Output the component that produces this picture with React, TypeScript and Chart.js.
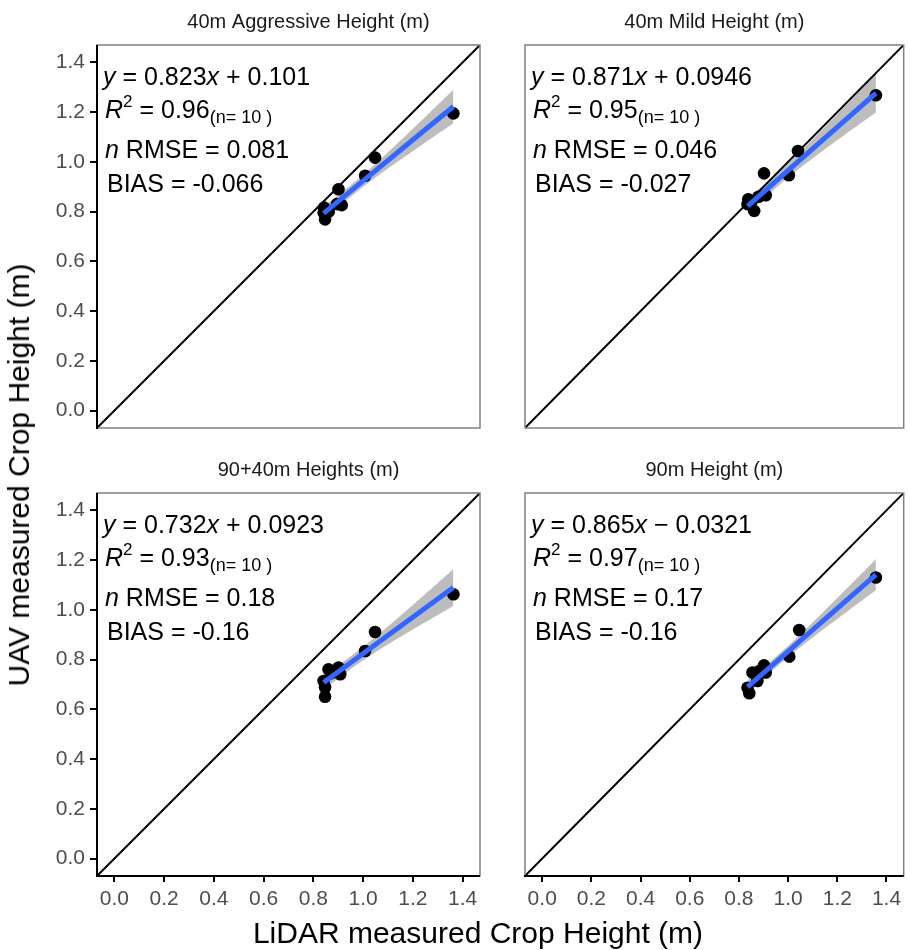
import React, { useEffect, useRef } from "react";
import { Chart, registerables } from "chart.js";

Chart.register(...registerables);

const FONT = '"Liberation Sans", Arial, Helvetica, sans-serif';

// ---------- data ----------
const panelTitles = ["40m Aggressive Height (m)", "40m Mild Height (m)", "90+40m Heights (m)", "90m Height (m)"];

const lidarAggressive = [0.843, 0.841, 0.847, 0.862, 0.895, 0.914, 0.901, 1.008, 1.048, 1.363];
const uavAggressive = [0.816, 0.796, 0.769, 0.800, 0.830, 0.826, 0.890, 0.944, 1.017, 1.195];

const lidarMild = [0.835, 0.838, 0.862, 0.880, 0.902, 0.909, 0.850, 1.003, 1.040, 1.357];
const uavMild = [0.830, 0.850, 0.803, 0.860, 0.954, 0.866, 0.840, 0.946, 1.044, 1.268];

const lidarCombined = [0.841, 0.847, 0.847, 0.861, 0.870, 0.901, 0.908, 1.008, 1.048, 1.363];
const uavCombined = [0.714, 0.689, 0.651, 0.761, 0.745, 0.768, 0.741, 0.835, 0.911, 1.063];

const lidar90 = [0.835, 0.842, 0.855, 0.875, 0.885, 0.902, 0.909, 1.005, 1.045, 1.357];
const uav90 = [0.687, 0.665, 0.748, 0.714, 0.755, 0.777, 0.748, 0.812, 0.919, 1.130];

const slopes = [0.823, 0.871, 0.732, 0.865];
const intercepts = [0.101, 0.0946, 0.0923, -0.0321];
const slopeLabels = ["0.823", "0.871", "0.732", "0.865"];
const interceptLabels = ["+ 0.101", "+ 0.0946", "+ 0.0923", "\u2212 0.0321"];
const r2Labels = ["0.96", "0.95", "0.93", "0.97"];
const nLabels = ["10", "10", "10", "10"];
const nrmseLabels = ["0.081", "0.046", "0.18", "0.17"];
const biasLabels = ["-0.066", "-0.027", "-0.16", "-0.16"];

const tickValues = [0, 0.2, 0.4, 0.6, 0.8, 1.0, 1.2, 1.4];
const axisMin = -0.07;
const axisMax = 1.47;

const xTitle = "LiDAR measured Crop Height (m)";
const yTitle = "UAV measured Crop Height (m)";

// ---------- layout ----------
const COL_X = [97, 525];
const ROW_Y = [45, 493];
const PANEL_W = 383;
const PANEL_H = 383;
const TITLE_SHIFT = [20, 0];

const xsList = [lidarAggressive, lidarMild, lidarCombined, lidar90];
const ysList = [uavAggressive, uavMild, uavCombined, uav90];

function ribbon(xs: number[], ys: number[], b: number, a: number) {
  const n = xs.length;
  const xbar = xs.reduce((s, v) => s + v, 0) / n;
  const sxx = xs.reduce((s, v) => s + (v - xbar) ** 2, 0);
  const sse = xs.reduce((s, v, i) => s + (ys[i] - (a + b * v)) ** 2, 0);
  const sd = Math.sqrt(sse / (n - 2));
  const t = 2.306;
  const lo = Math.min(...xs);
  const hi = Math.max(...xs);
  const upper: { x: number; y: number }[] = [];
  const lower: { x: number; y: number }[] = [];
  const steps = 60;
  for (let k = 0; k <= steps; k++) {
    const x = lo + ((hi - lo) * k) / steps;
    const yh = a + b * x;
    const h = t * sd * Math.sqrt(1 / n + (x - xbar) ** 2 / sxx);
    upper.push({ x, y: yh + h });
    lower.push({ x, y: yh - h });
  }
  return { upper, lower, lo, hi };
}

type Seg = { t: string; it?: boolean; size?: number; dy?: number };

function drawSegs(ctx: CanvasRenderingContext2D, x: number, y: number, segs: Seg[]) {
  let cx = x;
  for (const s of segs) {
    ctx.font = `${s.it ? "italic " : ""}${s.size || 25}px ${FONT}`;
    ctx.fillText(s.t, cx, y + (s.dy || 0));
    cx += ctx.measureText(s.t).width;
  }
}

function Panel({ idx }: { idx: number }) {
  const ref = useRef<HTMLCanvasElement>(null);
  const col = idx % 2;
  const row = Math.floor(idx / 2);
  const ml = col === 0 ? 97 : 20;
  const mr = col === 0 ? 20 : 2;
  const mt = 45;
  const mb = row === 0 ? 20 : 50;
  const width = ml + PANEL_W + mr;
  const height = mt + PANEL_H + mb;
  const left = COL_X[col] - ml;
  const top = ROW_Y[row] - mt;
  const showY = col === 0;
  const showX = row === 1;
  const yAxisW = showY ? 60 : 0;
  const xAxisH = showX ? 42 : 0;

  useEffect(() => {
    if (!ref.current) return;
    const xs = xsList[idx];
    const ys = ysList[idx];
    const b = slopes[idx];
    const a = intercepts[idx];
    const rib = ribbon(xs, ys, b, a);

    const frame = {
      id: "frame" + idx,
      afterDatasetsDraw(chart: any) {
        const { ctx, chartArea: ca } = chart;
        ctx.save();
        ctx.strokeStyle = "#808080";
        ctx.lineWidth = 1.5;
        ctx.strokeRect(ca.left, ca.top, ca.right - ca.left, ca.bottom - ca.top);
        ctx.strokeStyle = "#000";
        ctx.lineWidth = 2;
        ctx.beginPath();
        if (showY) {
          ctx.moveTo(ca.left, ca.top);
          ctx.lineTo(ca.left, ca.bottom + 1);
        }
        if (showX) {
          ctx.moveTo(ca.left - 1, ca.bottom);
          ctx.lineTo(ca.right, ca.bottom);
        }
        ctx.stroke();

        // title
        ctx.fillStyle = "#1a1a1a";
        ctx.font = `20px ${FONT}`;
        ctx.textAlign = "center";
        ctx.textBaseline = "alphabetic";
        ctx.fillText(panelTitles[idx], (ca.left + ca.right) / 2 + TITLE_SHIFT[col], ca.top - 17);

        // annotations
        ctx.textAlign = "left";
        ctx.fillStyle = "#000";
        const L = ca.left;
        const T = ca.top;
        drawSegs(ctx, L + 6, T + 40, [
          { t: "y", it: true },
          { t: " = " + slopeLabels[idx] },
          { t: "x", it: true },
          { t: " " + interceptLabels[idx] },
        ]);
        drawSegs(ctx, L + 8, T + 73, [
          { t: "R", it: true },
          { t: "2", size: 17, dy: -11 },
          { t: " = " + r2Labels[idx] },
          { t: "(n= " + nLabels[idx] + " )", size: 18, dy: 5 },
        ]);
        drawSegs(ctx, L + 8, T + 113, [{ t: "n", it: true }, { t: " RMSE = " + nrmseLabels[idx] }]);
        drawSegs(ctx, L + 10, T + 147, [{ t: "BIAS = " + biasLabels[idx] }]);
        ctx.restore();
      },
    };

    const chart = new Chart(ref.current, {
      type: "scatter",
      data: {
        datasets: [
          {
            type: "line",
            data: [
              { x: rib.lo, y: a + b * rib.lo },
              { x: rib.hi, y: a + b * rib.hi },
            ],
            borderColor: "#3366FF",
            borderWidth: 5,
            pointRadius: 0,
            order: 0,
          } as any,
          {
            data: xs.map((x, i) => ({ x, y: ys[i] })),
            backgroundColor: "#000",
            borderColor: "#000",
            pointRadius: 6.3,
            pointBorderWidth: 0,
            order: 1,
          },
          {
            type: "line",
            data: [
              { x: axisMin, y: axisMin },
              { x: axisMax, y: axisMax },
            ],
            borderColor: "#000",
            borderWidth: 2,
            pointRadius: 0,
            order: 2,
          } as any,
          {
            type: "line",
            data: rib.upper,
            borderWidth: 0,
            borderColor: "rgba(0,0,0,0)",
            pointRadius: 0,
            fill: false,
            order: 3,
          } as any,
          {
            type: "line",
            data: rib.lower,
            borderWidth: 0,
            borderColor: "rgba(0,0,0,0)",
            backgroundColor: "rgba(153,153,153,0.65)",
            pointRadius: 0,
            fill: "-1",
            order: 3,
          } as any,
        ],
      },
      options: {
        responsive: false,
        animation: false,
        events: [],
        layout: {
          padding: { left: ml - yAxisW, right: mr, top: mt, bottom: mb - xAxisH },
        },
        plugins: {
          legend: { display: false },
          tooltip: { enabled: false },
        },
        scales: {
          x: {
            type: "linear",
            min: axisMin,
            max: axisMax,
            afterBuildTicks: (s: any) => {
              s.ticks = tickValues.map((v) => ({ value: v }));
            },
            afterFit: (s: any) => {
              s.height = xAxisH;
            },
            border: { display: false },
            grid: {
              display: showX,
              drawOnChartArea: false,
              drawTicks: true,
              tickLength: 6,
              color: "#000",
              lineWidth: 2,
            },
            ticks: {
              display: showX,
              color: "#4d4d4d",
              font: { family: FONT, size: 21 },
              padding: 5,
              maxRotation: 0,
              autoSkip: false,
              callback: (v: any) => Number(v).toFixed(1),
            },
          },
          y: {
            type: "linear",
            min: axisMin,
            max: axisMax,
            afterBuildTicks: (s: any) => {
              s.ticks = tickValues.map((v) => ({ value: v }));
            },
            afterFit: (s: any) => {
              s.width = yAxisW;
            },
            border: { display: false },
            grid: {
              display: showY,
              drawOnChartArea: false,
              drawTicks: true,
              tickLength: 7,
              color: "#000",
              lineWidth: 2,
            },
            ticks: {
              display: showY,
              color: "#4d4d4d",
              font: { family: FONT, size: 21 },
              padding: 5,
              autoSkip: false,
              callback: (v: any) => Number(v).toFixed(1),
            },
          },
        },
      },
      plugins: [frame],
    } as any);
    return () => chart.destroy();
  }, [idx]);

  return (
    <canvas
      ref={ref}
      width={width}
      height={height}
      style={{ position: "absolute", left, top, width, height, display: "block" }}
    />
  );
}

export default function App() {
  return (
    <div style={{ position: "absolute", left: 0, top: 0, width: 910, height: 950, background: "#fff", fontFamily: FONT }}>
      {[0, 1, 2, 3].map((i) => (
        <Panel key={i} idx={i} />
      ))}
      <div
        style={{
          position: "absolute",
          left: 19,
          top: 475,
          transform: "translate(-50%, -50%) rotate(-90deg)",
          whiteSpace: "nowrap",
          fontSize: 30,
          color: "#000",
        }}
      >
        {yTitle}
      </div>
      <div
        style={{
          position: "absolute",
          left: 478,
          top: 933,
          transform: "translate(-50%, -50%)",
          whiteSpace: "nowrap",
          fontSize: 30,
          color: "#000",
        }}
      >
        {xTitle}
      </div>
    </div>
  );
}
